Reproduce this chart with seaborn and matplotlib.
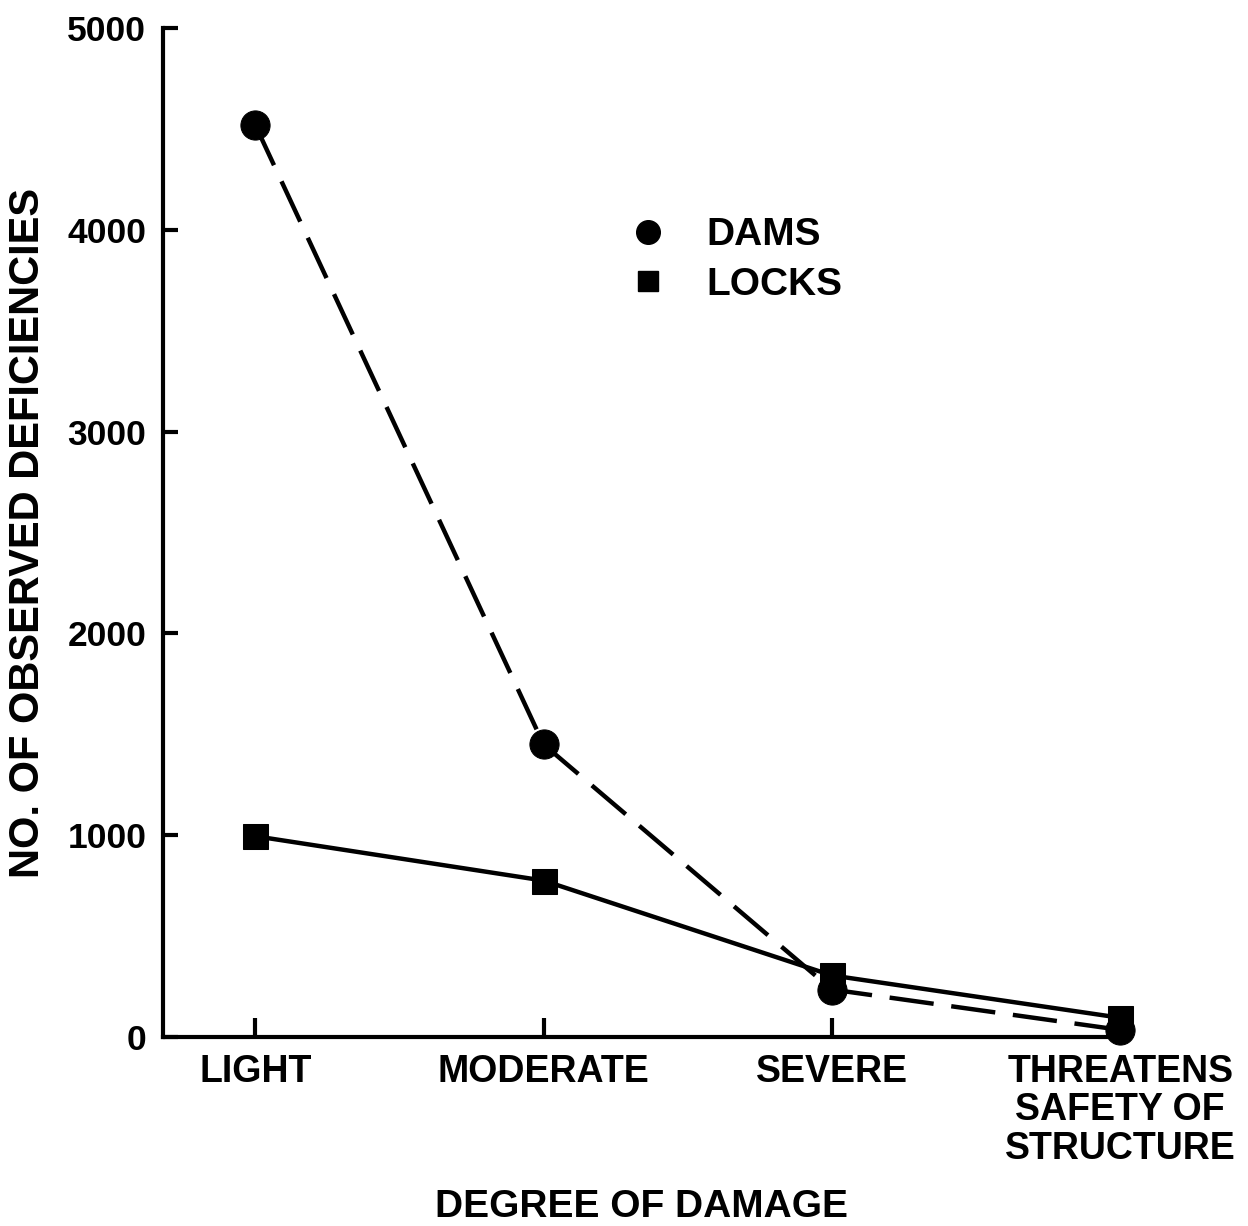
import matplotlib
matplotlib.use("Agg")
import matplotlib.pyplot as plt
from matplotlib.lines import Line2D
import seaborn as sns
import pandas as pd

# values
damage_levels = ["LIGHT", "MODERATE", "SEVERE", "THREATENS\nSAFETY OF\nSTRUCTURE"]
dams = [4520, 1450, 235, 35]
locks = [995, 775, 305, 95]
y_ticks = [0, 1000, 2000, 3000, 4000, 5000]

sns.set_theme(style="white")
plt.rcParams["font.family"] = ["Liberation Sans", "DejaVu Sans"]
plt.rcParams["font.weight"] = "bold"
plt.rcParams["text.color"] = "black"
plt.rcParams["axes.labelcolor"] = "black"

df = pd.DataFrame({"pos": range(len(damage_levels)), "dams": dams, "locks": locks})

fig = plt.figure(figsize=(12.48, 12.26), dpi=100)
ax = fig.add_axes([0.1306, 0.1542, 0.767, 0.8229])

sns.lineplot(data=df, x="pos", y="dams", ax=ax, color="black", lw=3.2,
             linestyle=(0, (10, 4)), marker="o", markersize=21,
             markeredgecolor="black", markerfacecolor="black", clip_on=False)
sns.lineplot(data=df, x="pos", y="locks", ax=ax, color="black", lw=3.2,
             marker="s", markersize=18,
             markeredgecolor="black", markerfacecolor="black", clip_on=False)

ax.set_xlim(-0.32, 2.98)
ax.set_ylim(0, 5000)
ax.set_xticks(range(len(damage_levels)))
ax.set_xticklabels(damage_levels, fontsize=27, fontweight="bold", linespacing=1.1)
ax.set_yticks(y_ticks)
ax.set_yticklabels([str(v) for v in y_ticks], fontsize=25.5, fontweight="bold")

for side in ["top", "right"]:
    ax.spines[side].set_visible(False)
for side in ["left", "bottom"]:
    ax.spines[side].set_linewidth(3)
    ax.spines[side].set_color("black")
ax.tick_params(axis="x", bottom=True, direction="in", length=14, width=3, pad=12, colors="black")
ax.tick_params(axis="y", left=True, direction="in", length=11, width=3, pad=12, colors="black")
ax.grid(False)

ax.set_xlabel("DEGREE OF DAMAGE", fontsize=28, fontweight="bold", labelpad=16, color="black")
ax.set_ylabel("NO. OF OBSERVED DEFICIENCIES", fontsize=30, fontweight="bold", labelpad=14, color="black")

handles = [
    Line2D([], [], color="black", linestyle="none", marker="o", markersize=17),
    Line2D([], [], color="black", linestyle="none", marker="s", markersize=15),
]
leg = ax.legend(handles, ["DAMS", "LOCKS"], frameon=False,
                prop={"weight": "bold", "size": 28}, loc="upper left",
                bbox_to_anchor=(0.43, 0.847), handletextpad=0.5, labelspacing=0.35)
for t in leg.get_texts():
    t.set_color("black")

fig.savefig("out.png", dpi=100)
